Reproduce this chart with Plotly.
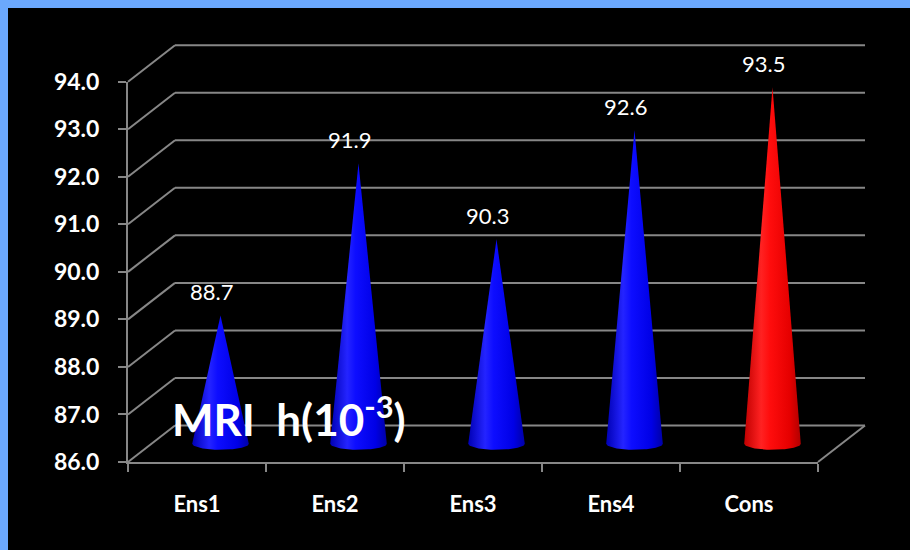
import numpy as np
import plotly.graph_objects as go

# ---------------- data ----------------
categories = ["Ens1", "Ens2", "Ens3", "Ens4", "Cons"]
values = [88.7, 91.9, 90.3, 92.6, 93.5]
cone_kind = ["blue", "blue", "blue", "blue", "red"]
y_ticks = [86, 87, 88, 89, 90, 91, 92, 93, 94]
title_text = "MRI  h(10<sup>-3</sup>)"

# ---------------- geometry / style ----------------
W, H = 910, 550
FX0, FX1 = 128, 818          # front plot box (px)
FY0, FY1 = 462, 81.7
DX, DY = 47, 36.5            # depth offset of the back wall (px)
YMIN, YMAX = y_ticks[0], y_ticks[-1]
PAD = 0.6                    # extra axis units for cone bases
ppu = (FY0 - FY1) / (YMAX - YMIN)
GRID = "#878787"
FONT = "Lato"

scales = {
    "blue": [[0, "#0000b4"], [0.3, "#2424ff"], [0.45, "#0d0dff"], [0.8, "#0000e6"], [1, "#0000a6"]],
    "red": [[0, "#c00000"], [0.3, "#ff2222"], [0.45, "#ff0d0d"], [0.8, "#e60000"], [1, "#b00000"]],
}


def xdom(shift):
    return [(FX0 + shift) / W, (FX1 + shift) / W]


def ydom(shift, pad=0.0):
    return [1 - (FY0 - shift + pad * ppu) / H, 1 - (FY1 - shift - pad * ppu) / H]


def yfront(v):
    return 1 - (FY0 - (v - YMIN) * ppu) / H


fig = go.Figure()

# front axes carrier (category axis)
fig.add_trace(go.Scatter(x=categories, y=[None] * len(categories), xaxis="x", yaxis="y",
                         mode="markers", showlegend=False, hoverinfo="skip"))
# back wall carrier
fig.add_trace(go.Scatter(x=[0], y=[None], xaxis="x2", yaxis="y2", mode="markers",
                         showlegend=False, hoverinfo="skip"))

# cones at middle depth
HW = 0.205          # half base width (category units)
EH = 6.0 / ppu      # half ellipse height (value units)
t = np.linspace(0, -np.pi, 40)
for i, (v, kind) in enumerate(zip(values, cone_kind)):
    xs = [i - HW, i, i + HW] + list(i + HW * np.cos(t))
    ys = [YMIN, v, YMIN] + list(YMIN + EH * np.sin(t))
    fig.add_trace(go.Scatter(
        x=xs, y=ys, xaxis="x3", yaxis="y3", mode="lines", fill="toself",
        line=dict(width=0, color="rgba(0,0,0,0)"),
        fillgradient=dict(type="horizontal", colorscale=scales[kind]),
        showlegend=False, hoverinfo="skip"))

# value labels
annotations = []
for i, v in enumerate(values):
    annotations.append(dict(x=i, y=v, xref="x3", yref="y3", text=f"{v:.1f}",
                            showarrow=False, yanchor="bottom", yshift=8, xshift=-9,
                            font=dict(family=FONT, size=22, color="white")))
annotations.append(dict(x=170 / W, y=1 - 416 / H, xref="paper", yref="paper",
                        text=title_text, showarrow=False, xanchor="left", yanchor="middle",
                        font=dict(family=FONT, size=44, color="white", weight="bold")))

shapes = [
    dict(type="rect", xref="paper", yref="paper", x0=0, x1=1, y0=1 - 8 / H, y1=1,
         fillcolor="#6ba8fd", line=dict(width=0), layer="below"),
    dict(type="rect", xref="paper", yref="paper", x0=0, x1=8 / W, y0=0, y1=1,
         fillcolor="#6ba8fd", line=dict(width=0), layer="below"),
]
# back-wall gridlines (on the back axes) and side-wall diagonals
for v in y_ticks:
    shapes.append(dict(type="line", xref="x2 domain", yref="y2", x0=0, x1=1, y0=v, y1=v,
                       line=dict(color=GRID, width=2), layer="below"))
    shapes.append(dict(type="line", xref="paper", yref="paper",
                       x0=FX0 / W, y0=yfront(v), x1=(FX0 + DX) / W, y1=yfront(v) + DY / H,
                       line=dict(color=GRID, width=2)))
shapes.append(dict(type="line", xref="paper", yref="paper",
                   x0=FX1 / W, y0=yfront(YMIN), x1=(FX1 + DX) / W, y1=yfront(YMIN) + DY / H,
                   line=dict(color=GRID, width=2)))

fig.update_layout(
    width=W, height=H, margin=dict(l=0, r=0, t=0, b=0, pad=0), autosize=False,
    paper_bgcolor="black", plot_bgcolor="rgba(0,0,0,0)",
    showlegend=False, annotations=annotations, shapes=shapes,
    xaxis=dict(domain=xdom(0), anchor="y", type="category", categoryorder="array",
               categoryarray=categories, range=[-0.5, len(categories) - 0.5],
               tickson="boundaries", ticks="outside", ticklen=8, tickwidth=2, tickcolor=GRID,
               showline=True, linecolor=GRID, linewidth=2, showgrid=False, zeroline=False,
               ticklabelstandoff=22, automargin=False,
               tickfont=dict(family=FONT, size=22, color="white", weight="bold")),
    yaxis=dict(domain=ydom(0), anchor="x", range=[YMIN, YMAX], tickvals=y_ticks,
               tickformat=".1f", ticks="outside", ticklen=8, tickwidth=2, tickcolor=GRID,
               showline=True, linecolor=GRID, linewidth=2, showgrid=False, zeroline=False,
               ticklabelstandoff=14, automargin=False,
               tickfont=dict(family=FONT, size=23, color="white", weight="bold")),
    xaxis2=dict(domain=xdom(DX), anchor="y2", range=[-0.5, len(categories) - 0.5],
                visible=False, automargin=False),
    yaxis2=dict(domain=ydom(DY, PAD), anchor="x2", range=[YMIN - PAD, YMAX + PAD],
                visible=False, automargin=False),
    xaxis3=dict(domain=xdom(DX / 2), anchor="y3", range=[-0.5, len(categories) - 0.5],
                visible=False, automargin=False),
    yaxis3=dict(domain=ydom(DY / 2, PAD), anchor="x3", range=[YMIN - PAD, YMAX + PAD],
                visible=False, automargin=False),
)

fig.write_html("out.html", config={"displayModeBar": False},
               post_script="document.body.style.margin='0';")
